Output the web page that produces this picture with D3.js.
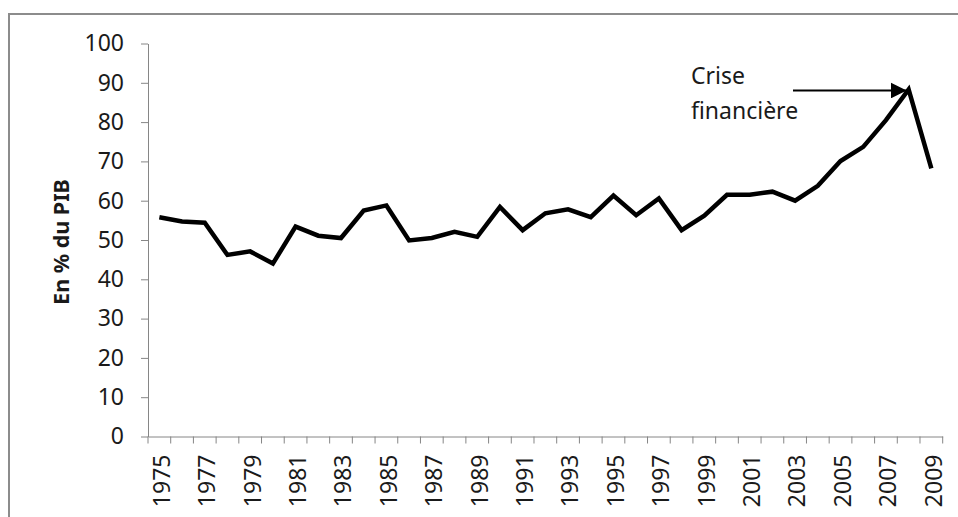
<!DOCTYPE html>
<html>
<head>
<meta charset="utf-8">
<script src="https://cdn.jsdelivr.net/npm/d3@7"></script>
<style>
  body { margin: 0; background: #fff; }
  svg text { font-family: 'Noto Sans', sans-serif; fill: #1a1a1a; }
</style>
</head>
<body>
<div id="mainView"></div>
<script>
// Categories (years) and values
const years = ['1975', '1976', '1977', '1978', '1979', '1980', '1981', '1982',
  '1983', '1984', '1985', '1986', '1987', '1988', '1989', '1990', '1991',
  '1992', '1993', '1994', '1995', '1996', '1997', '1998', '1999', '2000',
  '2001', '2002', '2003', '2004', '2005', '2006', '2007', '2008', '2009'];
const debt = [55.8, 54.7, 54.4, 46.2, 47.1, 44.0, 53.4, 51.1, 50.5, 57.5,
  58.8, 49.9, 50.5, 52.1, 50.8, 58.4, 52.5, 56.8, 57.8, 55.8, 61.3, 56.3,
  60.6, 52.5, 56.2, 61.5, 61.5, 62.3, 60.0, 63.8, 70.1, 73.7, 80.5, 88.3,
  68.2];
const yTicks = [0, 10, 20, 30, 40, 50, 60, 70, 80, 90, 100];
const yLabel = 'En % du PIB';
const noteLines = ['Crise', 'financière'];
const noteYear = '2008';

document.addEventListener('DOMContentLoaded', function() {
  const width = 958, height = 517;
  const svg = d3.select('#mainView').append('svg')
      .attr('width', width)
      .attr('height', height);

  // chart frame (runs off the right and bottom edges)
  svg.append('rect')
      .attr('x', 9).attr('y', 14)
      .attr('width', 980).attr('height', 540)
      .attr('fill', 'none')
      .attr('stroke', '#8c8c8c')
      .attr('stroke-width', 2);

  let plot = {left: 148, right: 942.7, top: 43.5, bottom: 436.5};

  let x = d3.scaleBand().domain(years).range([plot.left, plot.right]);
  let y = d3.scaleLinear().domain([0, 100]).range([plot.bottom, plot.top]);

  // y axis
  let yAxis = svg.append('g')
      .attr('transform', 'translate(' + plot.left + ',0)')
      .call(d3.axisLeft(y).tickValues(yTicks).tickSize(7).tickPadding(17)
                .tickSizeOuter(0));
  yAxis.selectAll('line, path').attr('stroke', '#868686');
  yAxis.selectAll('text')
      .style('font-size', '23px')
      .attr('fill', '#1a1a1a');

  // x axis: labels at category centres, ticks at category edges
  let xAxis = svg.append('g')
      .attr('transform', 'translate(0,' + plot.bottom + ')')
      .call(d3.axisBottom(x)
                .tickValues(years.filter((d, i) => i % 2 === 0))
                .tickSize(0).tickSizeOuter(0).tickPadding(0));
  xAxis.select('path').attr('stroke', '#868686');
  xAxis.selectAll('text')
      .style('font-size', '23px')
      .attr('fill', '#1a1a1a')
      .attr('transform', 'rotate(-90)')
      .attr('text-anchor', 'end')
      .attr('x', -18)
      .attr('y', 0)
      .attr('dy', '0.45em');

  let edges = years.map(d => x(d)).concat([x.range()[1]]);
  svg.append('g')
      .selectAll('line')
      .data(edges)
      .enter()
      .append('line')
      .attr('x1', d => d).attr('x2', d => d)
      .attr('y1', plot.bottom).attr('y2', plot.bottom + 7)
      .attr('stroke', '#868686');

  // y axis title
  svg.append('text')
      .attr('transform', 'rotate(-90)')
      .attr('x', -(plot.top + plot.bottom) / 2 - 2)
      .attr('y', 69)
      .attr('text-anchor', 'middle')
      .style('font-size', '21.5px')
      .style('font-weight', '700')
      .text(yLabel);

  // the series
  let line = d3.line()
      .x((d, i) => x(years[i]) + x.bandwidth() / 2)
      .y(d => y(d));

  svg.append('path')
      .attr('d', line(debt))
      .attr('fill', 'none')
      .attr('stroke', '#000')
      .attr('stroke-width', 4.5)
      .attr('stroke-linejoin', 'miter');

  // annotation
  svg.append('defs').append('marker')
      .attr('id', 'arrowHead')
      .attr('viewBox', '0 0 10 10')
      .attr('refX', 10).attr('refY', 5)
      .attr('markerWidth', 8).attr('markerHeight', 8)
      .attr('markerUnits', 'strokeWidth')
      .attr('orient', 'auto')
      .append('path')
      .attr('d', 'M0,0 L10,5 L0,10 Z')
      .attr('fill', '#000');

  let iNote = years.indexOf(noteYear);
  let tipX = x(noteYear) + x.bandwidth() / 2 - 2;
  let tipY = y(debt[iNote]) + 1;
  svg.append('line')
      .attr('x1', 793).attr('y1', tipY)
      .attr('x2', tipX).attr('y2', tipY)
      .attr('stroke', '#000')
      .attr('stroke-width', 2)
      .attr('marker-end', 'url(#arrowHead)');

  svg.append('g')
      .selectAll('text')
      .data(noteLines)
      .enter()
      .append('text')
      .attr('x', 691)
      .attr('y', (d, i) => 84 + i * 35)
      .style('font-size', '23px')
      .text(d => d);
});
</script>
</body>
</html>
